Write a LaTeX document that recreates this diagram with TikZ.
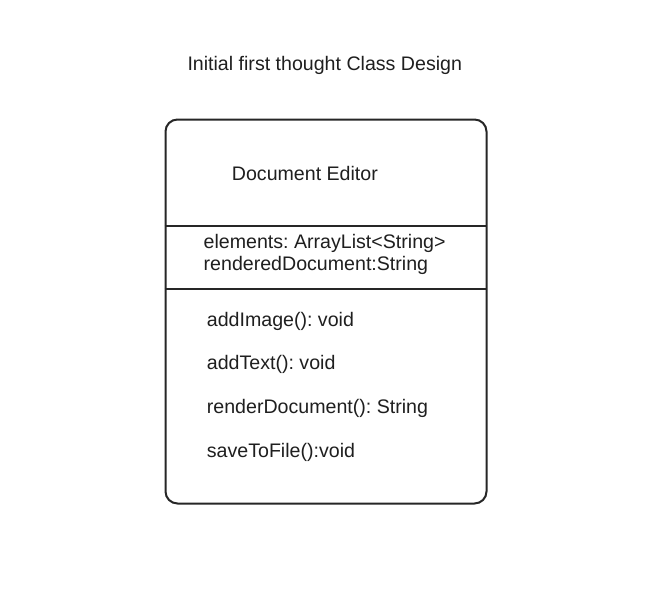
\documentclass[tikz,border=0pt]{standalone}
\usepackage{fontspec}
\setmainfont{Liberation Sans}
\frenchspacing
\begin{document}
\begin{tikzpicture}[x=1pt,y=-1pt,
  lbl/.style={inner sep=0pt,anchor=base west,font=\fontsize{19.6}{22}\selectfont,text=black!88},
  boxline/.style={line width=2pt,draw=black!85}]
\useasboundingbox (0,0) rectangle (670,598);
\fill[white] (0,0) rectangle (670,598);
\node[lbl] (title) at (187.3,70) {Initial first thought Class Design};
\node[boxline,rounded corners=12pt,minimum width=321pt,minimum height=384pt,inner sep=0pt,anchor=north west] (cls) at (164.5,118.5) {};
\coordinate (d1l) at (164.5,225.5);
\coordinate (d1r) at (485.5,225.5);
\coordinate (d2l) at (164.5,288.5);
\coordinate (d2r) at (485.5,288.5);
\draw[boxline] (d1l) -- (d1r);
\draw[boxline] (d2l) -- (d2r);
\node[lbl] (name) at (231.7,180) {Document Editor};
\node[lbl] (a1) at (203.5,248.5) {elements: ArrayList<String>};
\node[lbl] (a2) at (203.5,270) {renderedDocument:String};
\node[lbl] (m1) at (206.7,326) {addImage(): void};
\node[lbl] (m2) at (206.7,369.5) {addText(): void};
\node[lbl] (m3) at (206.7,413.5) {renderDocument(): String};
\node[lbl] (m4) at (206.7,457) {saveToFile():void};
\end{tikzpicture}
\end{document}
